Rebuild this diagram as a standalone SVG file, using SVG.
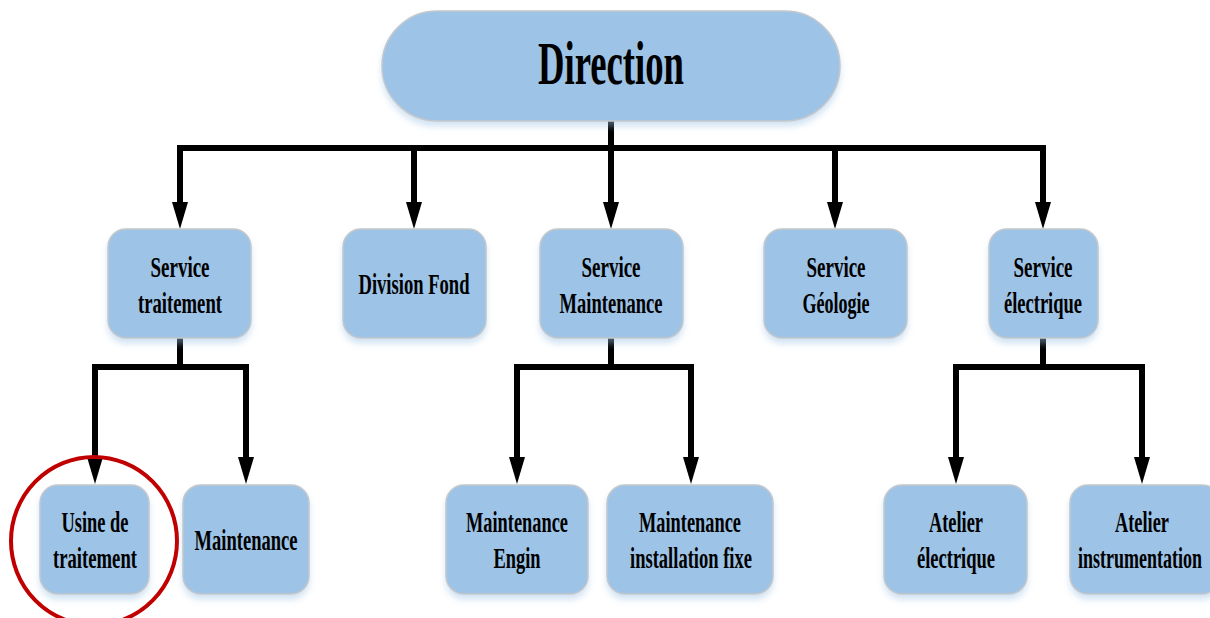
<svg xmlns="http://www.w3.org/2000/svg" width="1210" height="618" viewBox="0 0 1210 618">
<style>
.node{fill:#9dc3e6;stroke:#c4c8cc;stroke-width:1.5;filter:url(#sh)}
.t{font-family:"Liberation Serif","Times New Roman",serif;font-weight:bold;font-size:29px;fill:#000;text-anchor:middle}
.big{font-size:62px}
.conn{fill:none;stroke:#000;stroke-width:6;stroke-linejoin:miter}
.arr{marker-end:url(#ah)}
</style>
<defs>
<filter id="sh" x="-20%" y="-20%" width="140%" height="150%">
<feDropShadow dx="0" dy="5" stdDeviation="3" flood-color="#9dc3e6" flood-opacity="0.45"/>
</filter>
<marker id="ah" markerUnits="userSpaceOnUse" viewBox="0 0 27 16" markerWidth="27" markerHeight="16" refX="0" refY="8" orient="auto">
<path d="M0,0 L27,8 L0,16 Z" fill="#000"/>
</marker>
</defs>
<rect width="1210" height="618" fill="#fff"/>

<g id="connectors">
<path class="conn" d="M611,121 V148"/>
<path class="conn" d="M180,202 V148 H1043 V202" />
<path class="conn arr" d="M180,160 V202" />
<path class="conn arr" d="M1043,160 V202" />
<path class="conn arr" d="M414,148 V202"/>
<path class="conn arr" d="M611,148 V202"/>
<path class="conn arr" d="M835,148 V202"/>
<path class="conn" d="M180,338 V367"/>
<path class="conn" d="M95,457 V367 H246 V457"/>
<path class="conn arr" d="M95,440 V457"/>
<path class="conn arr" d="M246,440 V457"/>
<path class="conn" d="M611,338 V367"/>
<path class="conn" d="M517,457 V367 H691 V457"/>
<path class="conn arr" d="M517,440 V457"/>
<path class="conn arr" d="M691,440 V457"/>
<path class="conn" d="M1043,338 V367"/>
<path class="conn" d="M956,457 V367 H1142 V457"/>
<path class="conn arr" d="M956,440 V457"/>
<path class="conn arr" d="M1142,440 V457"/>
</g>

<g id="direction">
<rect class="node" x="382" y="11" width="458" height="110" rx="55"/>
<text class="t big" x="611" y="84" textLength="146" lengthAdjust="spacingAndGlyphs">Direction</text>
</g>

<g id="service-traitement">
<rect class="node" x="108" y="229" width="143" height="109" rx="18"/>
<text class="t" x="180" y="277" textLength="59" lengthAdjust="spacingAndGlyphs">Service</text>
<text class="t" x="180" y="313" textLength="84" lengthAdjust="spacingAndGlyphs">traitement</text>
</g>

<g id="division-fond">
<rect class="node" x="343" y="229" width="143" height="109" rx="18"/>
<text class="t" x="414" y="294" textLength="111" lengthAdjust="spacingAndGlyphs">Division Fond</text>
</g>

<g id="service-maintenance">
<rect class="node" x="540" y="229" width="143" height="109" rx="18"/>
<text class="t" x="611" y="277" textLength="59" lengthAdjust="spacingAndGlyphs">Service</text>
<text class="t" x="611" y="313" textLength="103" lengthAdjust="spacingAndGlyphs">Maintenance</text>
</g>

<g id="service-geologie">
<rect class="node" x="764" y="229" width="143" height="109" rx="18"/>
<text class="t" x="836" y="277" textLength="59" lengthAdjust="spacingAndGlyphs">Service</text>
<text class="t" x="836" y="313" textLength="67" lengthAdjust="spacingAndGlyphs">Géologie</text>
</g>

<g id="service-electrique">
<rect class="node" x="989" y="229" width="109" height="109" rx="18"/>
<text class="t" x="1043" y="277" textLength="59" lengthAdjust="spacingAndGlyphs">Service</text>
<text class="t" x="1043" y="313" textLength="78" lengthAdjust="spacingAndGlyphs">électrique</text>
</g>

<g id="usine-de-traitement">
<rect class="node" x="40" y="485" width="109" height="109" rx="18"/>
<text class="t" x="95" y="532" textLength="67" lengthAdjust="spacingAndGlyphs">Usine de</text>
<text class="t" x="95" y="568" textLength="84" lengthAdjust="spacingAndGlyphs">traitement</text>
<ellipse cx="94" cy="541" rx="83" ry="84" fill="none" stroke="#c00000" stroke-width="4"/>
</g>

<g id="maintenance">
<rect class="node" x="183" y="485" width="126" height="109" rx="18"/>
<text class="t" x="246" y="550" textLength="103" lengthAdjust="spacingAndGlyphs">Maintenance</text>
</g>

<g id="maintenance-engin">
<rect class="node" x="446" y="485" width="142" height="109" rx="18"/>
<text class="t" x="517" y="532" textLength="102" lengthAdjust="spacingAndGlyphs">Maintenance</text>
<text class="t" x="517" y="568" textLength="47" lengthAdjust="spacingAndGlyphs">Engin</text>
</g>

<g id="maintenance-installation-fixe">
<rect class="node" x="607" y="485" width="166" height="109" rx="18"/>
<text class="t" x="690" y="532" textLength="102" lengthAdjust="spacingAndGlyphs">Maintenance</text>
<text class="t" x="691" y="568" textLength="122" lengthAdjust="spacingAndGlyphs">installation fixe</text>
</g>

<g id="atelier-electrique">
<rect class="node" x="884" y="485" width="143" height="109" rx="18"/>
<text class="t" x="956" y="532" textLength="54" lengthAdjust="spacingAndGlyphs">Atelier</text>
<text class="t" x="956" y="568" textLength="78" lengthAdjust="spacingAndGlyphs">électrique</text>
</g>

<g id="atelier-instrumentation">
<rect class="node" x="1070" y="485" width="150" height="109" rx="18"/>
<text class="t" x="1142" y="532" textLength="54" lengthAdjust="spacingAndGlyphs">Atelier</text>
<text class="t" transform="translate(1140,568) scale(0.62,1)" x="0" y="0">instrumentation</text>
</g>
</svg>
